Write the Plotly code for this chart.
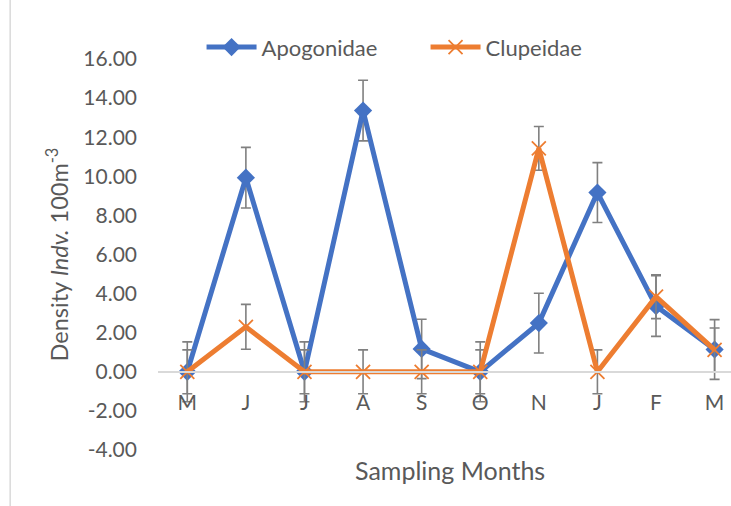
import plotly.graph_objects as go

months = ["M", "J", "J", "A", "S", "O", "N", "J", "F", "M"]
apogonidae = [0.0, 9.93, 0.0, 13.36, 1.17, 0.0, 2.49, 9.17, 3.36, 1.14]
apogonidae_err = [1.53, 1.55, 1.53, 1.55, 1.52, 1.53, 1.53, 1.53, 1.55, 1.53]
clupeidae = [0.0, 2.30, 0.0, 0.0, 0.0, 0.0, 11.43, 0.0, 3.84, 1.12]
clupeidae_err = [1.12, 1.15, 1.12, 1.12, 1.12, 1.12, 1.12, 1.12, 1.12, 1.12]
y_ticks = [-4, -2, 0, 2, 4, 6, 8, 10, 12, 14, 16]
y_tick_text = [f"{v:.2f}" for v in y_ticks]

xs = list(range(len(months)))
FONT = "Lato, Carlito, Liberation Sans, sans-serif"
GRAY = "#595959"
ERR = "#808080"

fig = go.Figure()
fig.add_trace(go.Scatter(
    x=xs, y=apogonidae, name="Apogonidae", mode="lines+markers",
    line=dict(color="#4472C4", width=5),
    marker=dict(symbol="diamond", size=14, color="#4472C4"),
    error_y=dict(type="data", array=apogonidae_err, visible=True,
                 color=ERR, thickness=1.6, width=5),
))
fig.add_trace(go.Scatter(
    x=xs, y=clupeidae, name="Clupeidae", mode="lines+markers",
    line=dict(color="#ED7D31", width=5),
    marker=dict(symbol="x-thin", size=14, color="#ED7D31",
                line=dict(color="#ED7D31", width=1.8)),
    error_y=dict(type="data", array=clupeidae_err, visible=True,
                 color=ERR, thickness=1.6, width=5),
))

fig.update_layout(
    width=731, height=506,
    margin=dict(l=158, r=0, t=59, b=56),
    paper_bgcolor="white", plot_bgcolor="white",
    font=dict(family=FONT, size=21, color=GRAY),
    showlegend=True,
    legend=dict(orientation="h", x=0.076, xanchor="left", y=1.03, yanchor="middle",
                font=dict(size=22, color=GRAY), bgcolor="rgba(0,0,0,0)",
                entrywidth=159, itemwidth=50, tracegroupgap=0),
    xaxis=dict(
        tickmode="array", tickvals=xs, ticktext=months,
        range=[-0.5, 9.28], showgrid=False, zeroline=False,
        showline=True, linecolor="#D9D9D9", linewidth=2,
        anchor="free", position=0.2, ticks="",
        ticklabelstandoff=12,
        tickfont=dict(size=21, color=GRAY, family=FONT),
    ),
    yaxis=dict(
        range=[-4, 16], tickmode="array", tickvals=y_ticks, ticktext=y_tick_text,
        showgrid=False, zeroline=False, showline=False, ticks="",
        ticklabelstandoff=20,
        tickfont=dict(size=21, color=GRAY, family=FONT),
        title=dict(text="Density <i>Indv.</i> 100m<sup>-3</sup>",
                   font=dict(size=23.5, color=GRAY, family=FONT), standoff=8),
    ),
    annotations=[dict(text="Sampling Months", xref="paper", yref="paper",
                      x=0.51, y=-0.05, xanchor="center", yanchor="middle",
                      showarrow=False, font=dict(size=25, color=GRAY, family=FONT))],
    shapes=[dict(type="line", xref="paper", yref="paper",
                 x0=-0.258, x1=-0.258, y0=-0.2, y1=1.2,
                 line=dict(color="#D9D9D9", width=1.5))],
)

fig.write_html("out.html")
